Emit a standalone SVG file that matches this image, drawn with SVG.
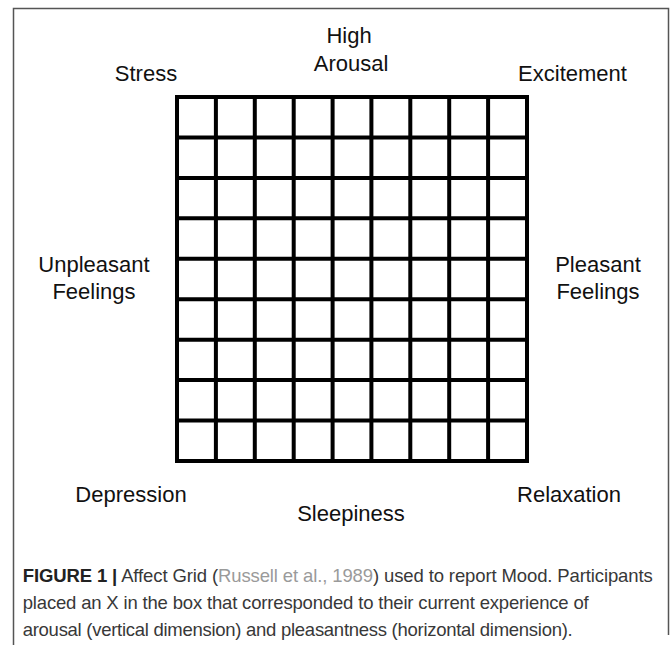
<svg xmlns="http://www.w3.org/2000/svg" width="672" height="645" viewBox="0 0 672 645">
  <style>
    .frame { fill: none; stroke: #555; stroke-width: 1.5; }
    .grid { fill: none; stroke: #000; stroke-width: 4; stroke-linecap: square; }
    .lbl { font-family: "Liberation Sans", Arial, sans-serif; font-size: 22px; fill: #111; text-anchor: middle; }
    .cap { font-family: "Liberation Sans", Arial, sans-serif; font-size: 18.5px; fill: #383838; }
    .capb { font-weight: bold; fill: #222; }
    .ref { fill: #9a9a9a; }
  </style>
  <rect x="0" y="0" width="672" height="645" fill="#fff"/>
  <g id="frame">
    <polyline class="frame" points="13.5,645 13.5,8.5 668.5,8.5 668.5,635"/>
  </g>
  <g id="grid">
    <rect class="grid" x="177" y="97" width="350" height="364"/>
    <path class="grid" d="M215.9 97V461M254.8 97V461M293.7 97V461M332.6 97V461M371.4 97V461M410.3 97V461M449.2 97V461M488.1 97V461
      M177 137.4H527M177 177.9H527M177 218.3H527M177 258.8H527M177 299.2H527M177 339.7H527M177 380.1H527M177 420.6H527"/>
  </g>
  <g id="high-arousal">
    <text class="lbl" x="349" y="43">High</text>
    <text class="lbl" x="351" y="70.5">Arousal</text>
  </g>
  <g id="stress"><text class="lbl" x="146" y="81">Stress</text></g>
  <g id="excitement"><text class="lbl" x="572.5" y="81">Excitement</text></g>
  <g id="unpleasant-feelings">
    <text class="lbl" x="94" y="272">Unpleasant</text>
    <text class="lbl" x="94" y="299">Feelings</text>
  </g>
  <g id="pleasant-feelings">
    <text class="lbl" x="598" y="272">Pleasant</text>
    <text class="lbl" x="598" y="299">Feelings</text>
  </g>
  <g id="depression"><text class="lbl" x="131" y="502">Depression</text></g>
  <g id="relaxation"><text class="lbl" x="569" y="502">Relaxation</text></g>
  <g id="sleepiness"><text class="lbl" x="351" y="521">Sleepiness</text></g>
  <g id="caption">
    <text class="cap" x="22.7" y="581.5" textLength="630" lengthAdjust="spacing"><tspan class="capb">FIGURE 1 |</tspan> Affect Grid (<tspan class="ref">Russell et al., 1989</tspan>) used to report Mood. Participants</text>
    <text class="cap" x="22.7" y="608.5" textLength="566" lengthAdjust="spacing">placed an X in the box that corresponded to their current experience of</text>
    <text class="cap" x="22.7" y="635.5" textLength="550" lengthAdjust="spacing">arousal (vertical dimension) and pleasantness (horizontal dimension).</text>
  </g>
</svg>
